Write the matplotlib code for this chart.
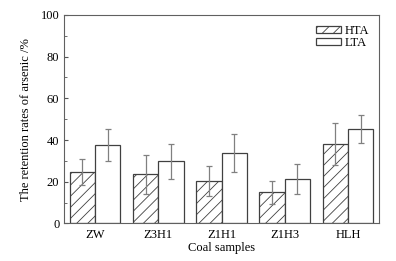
import numpy as np
import matplotlib.pyplot as plt

plt.rcParams['font.family'] = 'Liberation Serif'
plt.rcParams['hatch.color'] = '#555555'
plt.rcParams['hatch.linewidth'] = 0.6

samples = ['ZW', 'Z3H1', 'Z1H1', 'Z1H3', 'HLH']
hta = [24.7, 23.5, 20.5, 15.0, 38.1]
hta_err = [6.4, 9.2, 7.2, 5.5, 10.1]
lta = [37.5, 29.8, 33.8, 21.1, 45.2]
lta_err = [7.8, 8.3, 9.1, 7.2, 6.8]

fig = plt.figure(figsize=(3.96, 2.61), dpi=100)
ax = fig.add_axes([0.162, 0.144, 0.795, 0.799])

x = np.arange(len(samples))
w = 0.4
err_kw = dict(ecolor='#808080', elinewidth=0.9, capsize=2.5, capthick=0.9)
ax.bar(x - w / 2, hta, w, yerr=hta_err, color='white', edgecolor='#404040',
       linewidth=0.9, hatch='///', label='HTA', error_kw=err_kw)
ax.bar(x + w / 2, lta, w, yerr=lta_err, color='white', edgecolor='#404040',
       linewidth=0.9, label='LTA', error_kw=err_kw)

ax.set_xlim(-0.49, 4.49)
ax.set_ylim(0, 100)
ax.set_xticks(x)
ax.set_xticklabels(samples, fontsize=9)
ax.set_yticks(range(0, 101, 20))
ax.set_yticks(range(10, 100, 20), minor=True)
ax.tick_params(axis='y', direction='in', labelsize=9, length=3, color='#555555')
ax.tick_params(axis='y', which='minor', direction='in', length=1.8, color='#555555')
ax.tick_params(axis='x', length=0, pad=4)
for s in ax.spines.values():
    s.set_color('#606060')
    s.set_linewidth(0.8)

ax.set_xlabel('Coal samples', fontsize=9, labelpad=1)
ax.set_ylabel('The retention rates of arsenic /%', fontsize=9, labelpad=6)

ax.legend(loc='upper right', frameon=False, fontsize=9, handlelength=2.0,
          handleheight=0.5, handletextpad=0.3, labelspacing=0.0,
          borderaxespad=0.6, borderpad=0.2)

fig.savefig('out.png', dpi=100)
